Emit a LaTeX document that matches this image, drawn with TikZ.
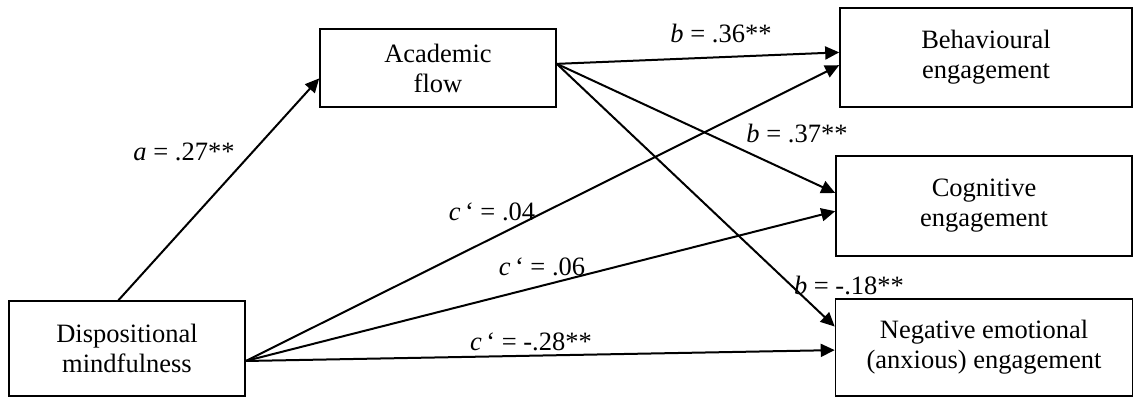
\documentclass[tikz,border=0pt]{standalone}
\usepackage{fontspec}
\setmainfont{Liberation Serif}
\usepackage{tikz}
\usetikzlibrary{arrows.meta, positioning, calc}
\tikzstyle{construct} = [rectangle, draw=black, line width=1.6pt, align=center, inner sep=2pt, font=\fontsize{26.5}{30}\selectfont]
\tikzstyle{coef} = [inner sep=1pt, font=\fontsize{26.5}{30}\selectfont]
\tikzstyle{arrow} = [line width=2pt, -{Triangle[length=14pt, width=13pt]}, color=black]

\begin{document}
\begin{tikzpicture}[x=1pt, y=1pt]
    \useasboundingbox (0,0) rectangle (1134,397);
    \node[construct, minimum width=236pt, minimum height=95pt] (mindful) at (127,48.5) {Dispositional\\mindfulness};
    \node[construct, minimum width=236pt, minimum height=78pt] (flow) at (438,329) {Academic\\flow};
    \node[construct, minimum width=292pt, minimum height=99pt] (behav) at (986,339.5) {Behavioural\\engagement};
    \node[construct, minimum width=296pt, minimum height=100pt] (cogn) at (984,191) {Cognitive\\engagement};
    \node[construct, minimum width=297pt, minimum height=97pt] (negemo) at (984,49.5) {Negative emotional\\(anxious) engagement};

    \node[coef] (pa) at (184,245) {\textit{a} = .27**};
    \node[coef] (pb1) at (721,364) {\textit{b} = .36**};
    \node[coef] (pb2) at (797,264) {\textit{b} = .37**};
    \node[coef] (pb3) at (849,112) {\textit{b} = -.18**};
    \node[coef] (pc1) at (492,185) {\textit{c}\,‘ = .04};
    \node[coef] (pc2) at (542,130) {\textit{c}\,‘ = .06};
    \node[coef] (pc3) at (531,55) {\textit{c}\,‘ = -.28**};

    \draw[arrow] (mindful.100) -- (flow.185);
    \draw[arrow] (flow.2) -- (behav.178);
    \draw[arrow] (flow.2) -- (cogn.175);
    \draw[arrow] (flow.2) -- (negemo.172);
    \draw[arrow] (mindful.354) -- (behav.183);
    \draw[arrow] (mindful.354) -- (cogn.182);
    \draw[arrow] (mindful.354) -- (negemo.181);
\end{tikzpicture}
\end{document}
